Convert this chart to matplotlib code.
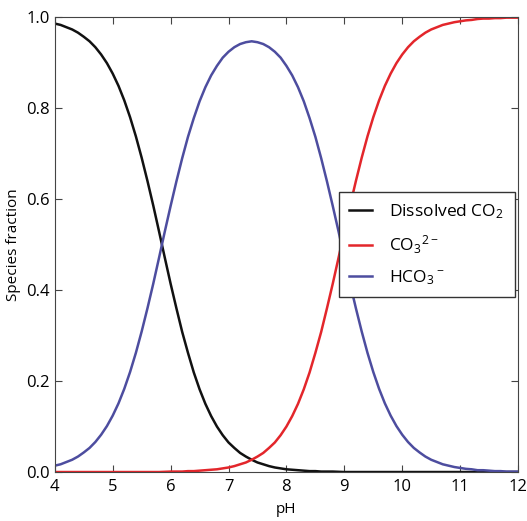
import matplotlib
matplotlib.use("Agg")
import matplotlib.pyplot as plt

plt.rcParams['font.family'] = ['Open Sans', 'DejaVu Sans']
plt.rcParams['mathtext.default'] = 'regular'
plt.rcParams['mathtext.fontset'] = 'custom'
plt.rcParams['mathtext.rm'] = 'Open Sans'

# pH grid and species fractions
ph = [4.0, 4.1, 4.2, 4.3, 4.4, 4.5, 4.6, 4.7, 4.8, 4.9,
      5.0, 5.1, 5.2, 5.3, 5.4, 5.5, 5.6, 5.7, 5.8, 5.9,
      6.0, 6.1, 6.2, 6.3, 6.4, 6.5, 6.6, 6.7, 6.8, 6.9,
      7.0, 7.1, 7.2, 7.3, 7.4, 7.5, 7.6, 7.7, 7.8, 7.9,
      8.0, 8.1, 8.2, 8.3, 8.4, 8.5, 8.6, 8.7, 8.8, 8.9,
      9.0, 9.1, 9.2, 9.3, 9.4, 9.5, 9.6, 9.7, 9.8, 9.9,
      10.0, 10.1, 10.2, 10.3, 10.4, 10.5, 10.6, 10.7, 10.8, 10.9,
      11.0, 11.1, 11.2, 11.3, 11.4, 11.5, 11.6, 11.7, 11.8, 11.9, 12.0]

co2 = [0.986, 0.983, 0.978, 0.973, 0.966, 0.957, 0.947, 0.934, 0.918, 0.899,
       0.876, 0.849, 0.817, 0.780, 0.738, 0.691, 0.640, 0.586, 0.529, 0.471,
       0.414, 0.360, 0.308, 0.262, 0.219, 0.182, 0.150, 0.123, 0.100, 0.081,
       0.065, 0.053, 0.042, 0.034, 0.027, 0.021, 0.017, 0.013, 0.010, 0.008,
       0.006, 0.005, 0.004, 0.003, 0.002, 0.002, 0.001, 0.001, 0.001, 0.0005,
       0.0, 0.0, 0.0, 0.0, 0.0, 0.0, 0.0, 0.0, 0.0, 0.0,
       0.0, 0.0, 0.0, 0.0, 0.0, 0.0, 0.0, 0.0, 0.0, 0.0,
       0.0, 0.0, 0.0, 0.0, 0.0, 0.0, 0.0, 0.0, 0.0, 0.0, 0.0]

co3 = [0.0, 0.0, 0.0, 0.0, 0.0, 0.0, 0.0, 0.0, 0.0, 0.0,
       0.0, 0.0, 0.0, 0.0, 0.0, 0.0, 0.0, 0.0, 0.0, 0.0005,
       0.001, 0.001, 0.001, 0.002, 0.002, 0.003, 0.004, 0.005, 0.006, 0.008,
       0.010, 0.013, 0.017, 0.021, 0.027, 0.034, 0.042, 0.053, 0.065, 0.081,
       0.100, 0.123, 0.150, 0.182, 0.219, 0.262, 0.308, 0.360, 0.414, 0.471,
       0.529, 0.586, 0.640, 0.691, 0.738, 0.780, 0.817, 0.849, 0.876, 0.899,
       0.918, 0.934, 0.947, 0.957, 0.966, 0.973, 0.978, 0.983, 0.986, 0.989,
       0.991, 0.993, 0.994, 0.996, 0.997, 0.997, 0.998, 0.998, 0.999, 0.999, 0.999]

hco3 = [0.014, 0.017, 0.022, 0.027, 0.034, 0.043, 0.053, 0.066, 0.082, 0.101,
        0.124, 0.151, 0.183, 0.220, 0.262, 0.309, 0.360, 0.414, 0.471, 0.529,
        0.585, 0.639, 0.690, 0.737, 0.778, 0.815, 0.846, 0.872, 0.893, 0.911,
        0.924, 0.934, 0.941, 0.945, 0.947, 0.945, 0.941, 0.934, 0.924, 0.911,
        0.893, 0.872, 0.846, 0.815, 0.778, 0.737, 0.690, 0.639, 0.585, 0.529,
        0.471, 0.414, 0.360, 0.309, 0.262, 0.220, 0.183, 0.151, 0.124, 0.101,
        0.082, 0.066, 0.053, 0.043, 0.034, 0.027, 0.022, 0.017, 0.014, 0.011,
        0.009, 0.007, 0.006, 0.004, 0.004, 0.003, 0.002, 0.002, 0.001, 0.001, 0.001]

ytick_labels = ['0.0', '0.2', '0.4', '0.6', '0.8', '1.0']

fig = plt.figure(figsize=(5.27, 5.21), dpi=100)
ax = fig.add_axes([0.104, 0.094, 0.879, 0.873])

ax.plot(ph, co2, color='#111111', lw=1.8, label='Dissolved CO$_2$')
ax.plot(ph, co3, color='#e3262b', lw=1.8, label='CO$_3$$^{2-}$')
ax.plot(ph, hco3, color='#4d4d9f', lw=1.8, label='HCO$_3$$^-$')

ax.set_xlim(4, 12)
ax.set_ylim(0, 1)
ax.set_xticks(range(4, 13))
ax.set_yticks([0, 0.2, 0.4, 0.6, 0.8, 1.0])
ax.set_yticklabels(ytick_labels)
ax.tick_params(direction='in', top=True, right=True, labelsize=12,
               length=5, color='#444444')
ax.tick_params(axis='x', pad=5)
for s in ax.spines.values():
    s.set_color('#444444')
ax.set_xlabel('pH', fontsize=11, labelpad=5)
ax.set_ylabel('Species fraction', fontsize=11)

leg = ax.legend(loc='center right', fontsize=12.5, fancybox=False,
                framealpha=1, edgecolor='#333333', handlelength=1.3,
                handletextpad=1.0, borderpad=0.6, labelspacing=0.7,
                borderaxespad=0.2)

fig.savefig('out.png', dpi=100)
